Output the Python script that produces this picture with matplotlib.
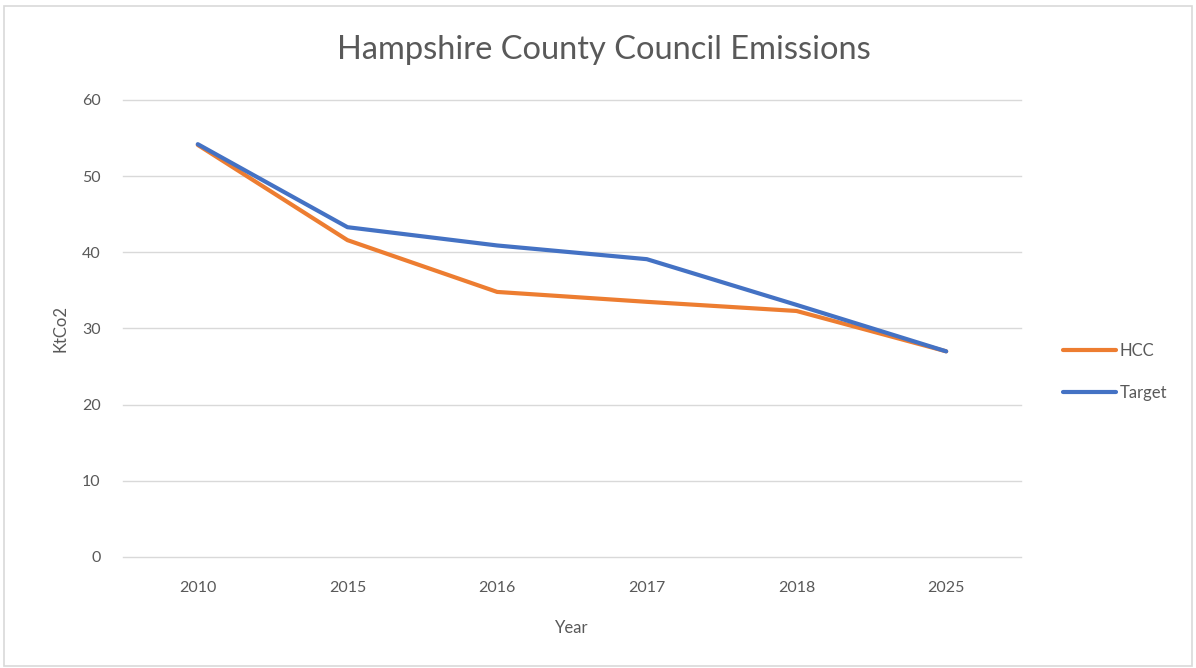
import matplotlib
matplotlib.use("Agg")
import matplotlib.pyplot as plt
from matplotlib.patches import Rectangle

categories = ["2010", "2015", "2016", "2017", "2018", "2025"]
hcc = [54.1, 41.6, 34.8, 33.5, 32.3, 27.0]
target = [54.2, 43.3, 40.9, 39.1, 33.1, 27.0]
yticks = [0, 10, 20, 30, 40, 50, 60]

TXT = "#595959"
FONT = ["Lato", "DejaVu Sans"]
plt.rcParams["font.family"] = FONT

fig = plt.figure(figsize=(11.96, 6.68), dpi=100)
fig.patches.append(Rectangle((0.003, 0.003), 0.994, 0.988, transform=fig.transFigure,
                             fill=False, edgecolor="#d9d9d9", linewidth=1.2))
ax = fig.add_axes([0.1028, 0.1662, 0.7509, 0.6841])

x = list(range(len(categories)))
ax.plot(x, hcc, color="#ED7D31", linewidth=3.0, solid_capstyle="round", solid_joinstyle="round", label="HCC")
ax.plot(x, target, color="#4472C4", linewidth=3.0, solid_capstyle="round", solid_joinstyle="round", label="Target")

ax.set_xlim(-0.5, len(categories) - 0.5)
ax.set_ylim(0, 60)
ax.set_yticks(yticks)
ax.set_xticks(x)
ax.set_xticklabels(categories)
ax.grid(axis="y", color="#d9d9d9", linewidth=1.0)
for gl in ax.get_ygridlines():
    gl.set_clip_on(False)
ax.set_axisbelow(True)
for s in ax.spines.values():
    s.set_visible(False)
ax.tick_params(axis="both", length=0, labelsize=11.5, labelcolor=TXT)
ax.tick_params(axis="y", pad=16)
ax.tick_params(axis="x", pad=17)

ax.set_xlabel("Year", fontsize=12, color=TXT, labelpad=18)
ax.set_ylabel("KtCo2", fontsize=12, color=TXT, labelpad=10)
fig.text(0.505, 0.925, "Hampshire County Council Emissions", ha="center", va="center",
         fontsize=23.5, color=TXT)

leg = ax.legend(loc="center left", bbox_to_anchor=(1.03, 0.405), frameon=False,
                fontsize=12, labelcolor=TXT, handlelength=3.2, handletextpad=0.2,
                labelspacing=1.6)

fig.savefig("out.png", dpi=100)
